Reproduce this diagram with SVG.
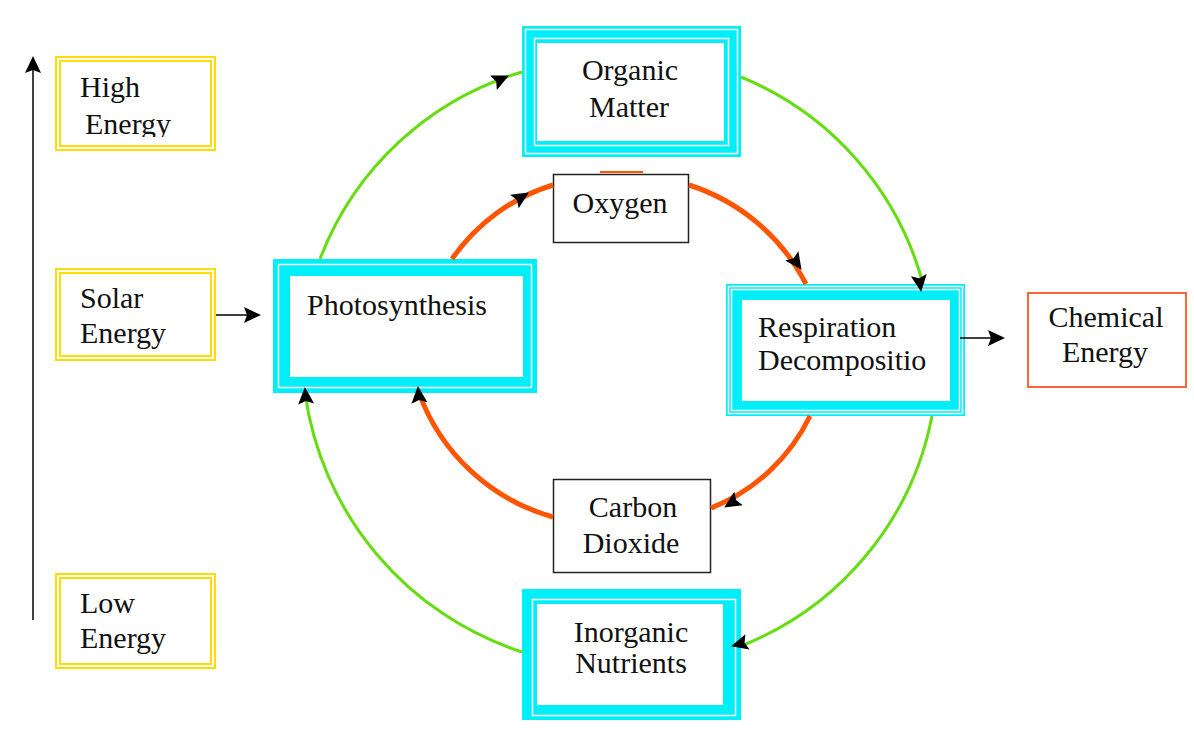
<svg xmlns="http://www.w3.org/2000/svg" width="1194" height="738" viewBox="0 0 1194 738">
  <style>
    .t{font-family:"Liberation Serif","Times New Roman",serif;font-size:30px;fill:#111}
    .cy{fill:#00eef8}
    .wl{fill:none;stroke:#fff;stroke-width:1.5}
    .in{fill:#fff}
    .yl{fill:none;stroke:#ffdd00;stroke-width:2}
    .gr{fill:none;stroke:#66dd11;stroke-width:3}
    .or{fill:none;stroke:#ff5500;stroke-width:5}
    .bx{fill:#fff;stroke:#222;stroke-width:1.5}
    .ln{fill:none;stroke:#000;stroke-width:1.5}
  </style>
  <defs>
    <path id="ah" d="M1,0 L-16,-8 L-13,0 L-16,8 Z" fill="#000"/>
    <clipPath id="clipHigh"><rect x="55" y="56" width="161" height="81"/></clipPath>
  </defs>
  <rect width="1194" height="738" fill="#fff"/>

  <!-- energy scale boxes -->
  <g id="high-energy">
    <rect class="yl" x="56" y="57" width="159" height="93"/>
    <rect class="yl" x="60" y="61" width="151" height="85"/>
    <g clip-path="url(#clipHigh)">
      <text class="t" x="80" y="97">High</text>
      <text class="t" x="85" y="134">Energy</text>
    </g>
  </g>
  <g id="solar-energy">
    <rect class="yl" x="56" y="269" width="159" height="91"/>
    <rect class="yl" x="60" y="273" width="151" height="83"/>
    <text class="t" x="80" y="308">Solar</text>
    <text class="t" x="80" y="343">Energy</text>
  </g>
  <g id="low-energy">
    <rect class="yl" x="56" y="574" width="159" height="94"/>
    <rect class="yl" x="60" y="578" width="151" height="86"/>
    <text class="t" x="80" y="613">Low</text>
    <text class="t" x="80" y="648">Energy</text>
  </g>

  <!-- process boxes -->
  <g id="organic-matter">
    <rect class="cy" x="522" y="26" width="219" height="131"/>
    <rect class="wl" x="525.5" y="29.5" width="212" height="124"/>
    <rect class="wl" x="534.5" y="38.5" width="194" height="107"/>
    <rect class="in" x="537" y="43" width="187" height="98"/>
    <text class="t" x="630" y="80" text-anchor="middle">Organic</text>
    <text class="t" x="629" y="117" text-anchor="middle">Matter</text>
  </g>
  <g id="photosynthesis">
    <rect class="cy" x="273" y="259" width="264" height="134"/>
    <rect class="wl" x="278.5" y="264.5" width="253" height="123"/>
    <rect class="in" x="290" y="276" width="233" height="101"/>
    <text class="t" x="307" y="315">Photosynthesis</text>
  </g>
  <g id="respiration">
    <rect class="cy" x="726" y="284" width="239" height="132"/>
    <rect class="wl" x="728.5" y="286.5" width="234" height="127"/>
    <rect class="wl" x="731.5" y="289.5" width="228" height="121"/>
    <rect class="in" x="742" y="300" width="208" height="101"/>
    <text class="t" x="758" y="337">Respiration</text>
    <text class="t" x="758" y="370">Decompositio</text>
  </g>
  <g id="inorganic-nutrients">
    <rect class="cy" x="522" y="589" width="219" height="131"/>
    <rect class="wl" x="532.5" y="599.5" width="203" height="116"/>
    <rect class="in" x="537" y="604" width="186" height="101"/>
    <text class="t" x="631" y="642" text-anchor="middle">Inorganic</text>
    <text class="t" x="631" y="673" text-anchor="middle">Nutrients</text>
  </g>
  <g id="chemical-energy">
    <rect x="1028" y="293" width="158" height="94" fill="#fff" stroke="#ff6633" stroke-width="2"/>
    <text class="t" x="1106" y="327" text-anchor="middle">Chemical</text>
    <text class="t" x="1105" y="362" text-anchor="middle">Energy</text>
  </g>
  <g id="oxygen">
    <rect class="bx" x="553.5" y="174.5" width="135" height="68"/>
    <line x1="600" y1="172" x2="643" y2="172" stroke="#ff5500" stroke-width="2"/>
    <text class="t" x="620" y="213" text-anchor="middle">Oxygen</text>
  </g>
  <g id="carbon-dioxide">
    <rect class="bx" x="553.5" y="479.5" width="157" height="93"/>
    <text class="t" x="633" y="517" text-anchor="middle">Carbon</text>
    <text class="t" x="631" y="553" text-anchor="middle">Dioxide</text>
  </g>

  <!-- connectors -->
  <g id="connectors">
    <!-- energy axis -->
    <line class="ln" x1="33" y1="620" x2="33" y2="68"/>
    <use href="#ah" transform="translate(33,57) rotate(-90)"/>
    <!-- solar input and chemical output -->
    <line class="ln" x1="216" y1="315" x2="248" y2="315"/>
    <use href="#ah" transform="translate(260,315)"/>
    <line class="ln" x1="960" y1="338" x2="992" y2="338"/>
    <use href="#ah" transform="translate(1004,338)"/>

    <!-- matter cycle (green) -->
    <path class="gr" d="M320 259 A310 310 0 0 1 522 72"/>
    <path class="gr" d="M741 77 A310 310 0 0 1 923 284"/>
    <path class="gr" d="M932 416 A310 310 0 0 1 741 646"/>
    <path class="gr" d="M522 652 A318 318 0 0 1 305 393"/>
    <use href="#ah" transform="translate(508,76) rotate(-25)"/>
    <use href="#ah" transform="translate(921,291) rotate(82)"/>
    <use href="#ah" transform="translate(732,646) rotate(165)"/>
    <use href="#ah" transform="translate(305,388) rotate(-94)"/>

    <!-- gas cycle (orange) -->
    <path class="or" d="M452 259 A190 190 0 0 1 553 185"/>
    <path class="or" d="M689 185 A200 200 0 0 1 806 284"/>
    <path class="or" d="M810 416 A185 185 0 0 1 711 508"/>
    <path class="or" d="M553 517 A200 200 0 0 1 419 393"/>
    <use href="#ah" transform="translate(528,193) rotate(-32)"/>
    <use href="#ah" transform="translate(801,269) rotate(55)"/>
    <use href="#ah" transform="translate(725,507) rotate(148)"/>
    <use href="#ah" transform="translate(418,387) rotate(-95)"/>
  </g>
</svg>
